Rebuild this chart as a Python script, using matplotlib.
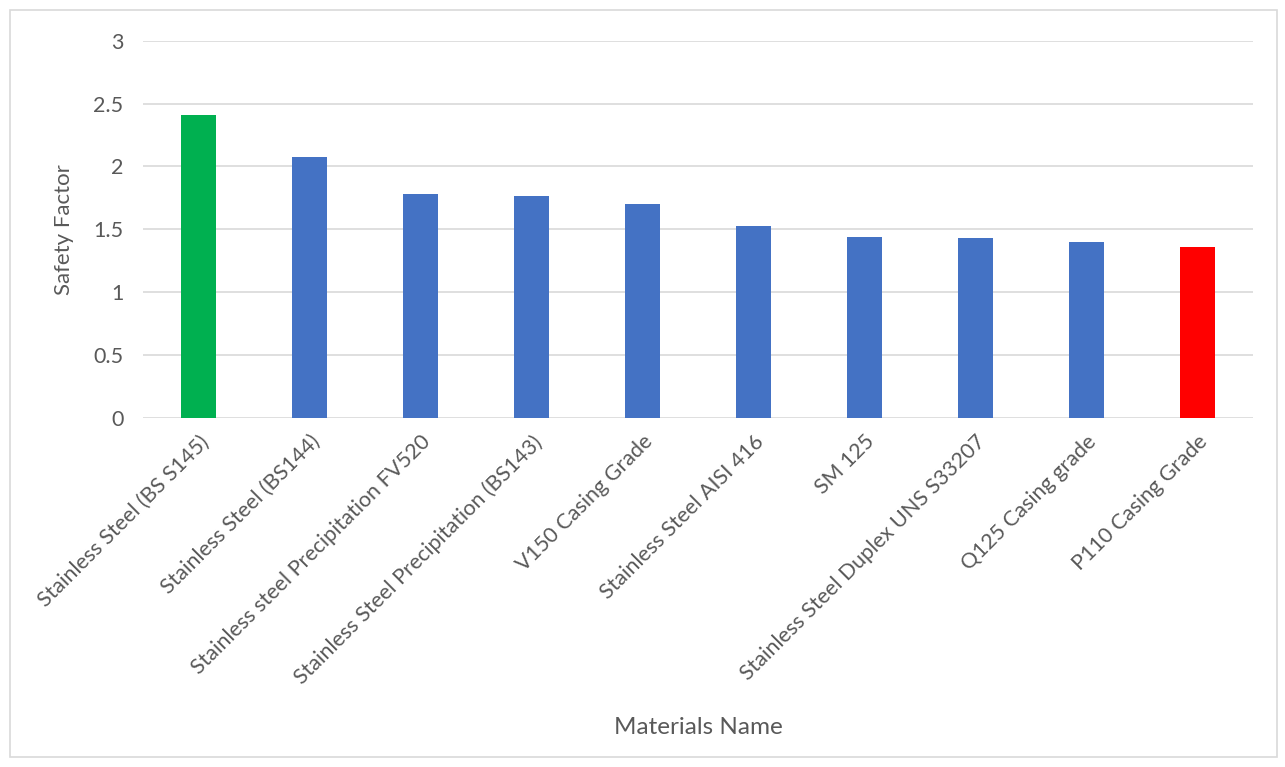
import matplotlib
matplotlib.use("Agg")
import matplotlib.pyplot as plt
from matplotlib.patches import Rectangle

materials = ["Stainless Steel (BS S145)", "Stainless Steel (BS144)",
             "Stainless steel Precipitation FV520", "Stainless Steel Precipitation (BS143)",
             "V150 Casing Grade", "Stainless Steel AISI 416", "SM 125",
             "Stainless Steel Duplex UNS S33207", "Q125 Casing grade", "P110 Casing Grade"]
safety = [2.41, 2.077, 1.778, 1.762, 1.70, 1.523, 1.44, 1.43, 1.398, 1.358]
colors = ["#00B050"] + ["#4472C4"] * 8 + ["#FF0000"]

plt.rcParams['font.family'] = ['Lato', 'DejaVu Sans']
txt = "#595959"

fig = plt.figure(figsize=(12.85, 7.67), dpi=100)
ax = fig.add_axes([143/1285, 1 - 417.7/767, (1253-143)/1285, (417.7-40.7)/767])

x = range(len(materials))
ax.bar(x, safety, width=0.32, color=colors, zorder=3)

ax.set_xlim(-0.5, len(materials) - 0.5)
ax.set_ylim(0, 3)
ax.set_yticks([0, 0.5, 1, 1.5, 2, 2.5, 3])
ax.set_yticklabels(["0", "0.5", "1", "1.5", "2", "2.5", "3"])
ax.grid(axis='y', color="#d9d9d9", linewidth=1.2, zorder=0)
ax.tick_params(axis='y', length=0, pad=14, labelsize=15.5, labelcolor=txt)
ax.tick_params(axis='x', length=0, pad=10, labelsize=15.5, labelcolor=txt)
ax.set_xticks(list(x))
ax.set_xticklabels(materials, rotation=45, ha='right', rotation_mode='anchor')
for s in ax.spines.values():
    s.set_visible(False)

ax.set_ylabel("Safety Factor", fontsize=16, color=txt, labelpad=14)
fig.text(698/1285, 1 - 727/767, "Materials Name", fontsize=17.5, color=txt,
         ha='center', va='center')

fig.patches.append(Rectangle((10/1285, 10/767), 1267/1285, 747/767, transform=fig.transFigure,
                             fill=False, edgecolor="#d9d9d9", linewidth=1.2))

fig.savefig("out.png", dpi=100)
